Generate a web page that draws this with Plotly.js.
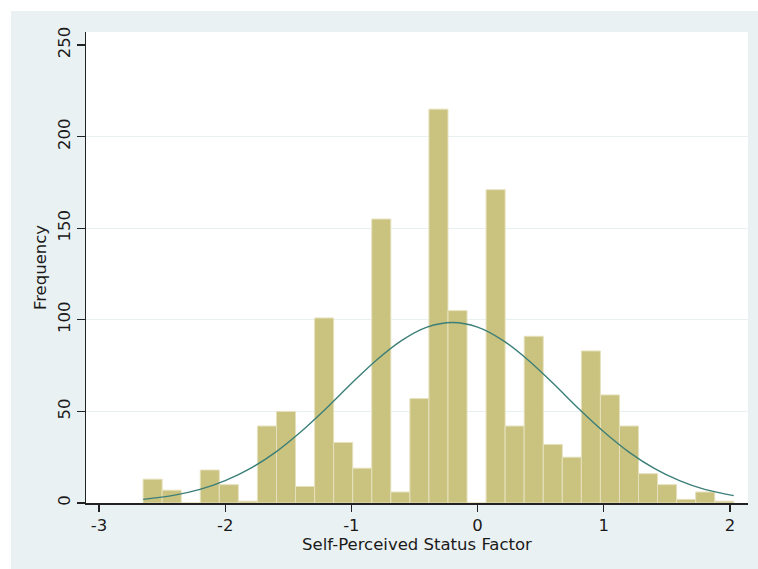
<!DOCTYPE html>
<html>
<head>
<meta charset="utf-8">
<script src="https://cdn.plot.ly/plotly-3.0.1.min.js"></script>
<style>
  html, body { margin: 0; padding: 0; background: #ffffff; }
  #chart { position: absolute; left: 11px; top: 11px; width: 747px; height: 558px; }
</style>
</head>
<body>
<div id="chart"></div>
<script>
// Histogram bin centres (Self-Perceived Status Factor)
const binCenters = [-2.575, -2.424, -2.273, -2.122, -1.971, -1.820, -1.669, -1.518, -1.367, -1.216,
                    -1.065, -0.914, -0.763, -0.612, -0.461, -0.310, -0.159, -0.008, 0.143, 0.294,
                    0.445, 0.596, 0.747, 0.898, 1.049, 1.200, 1.351, 1.502, 1.653, 1.804, 1.955];
// Frequencies
const frequencies = [13, 7, 0, 18, 10, 1, 42, 50, 9, 101,
                     33, 19, 155, 6, 57, 215, 105, 0, 171, 42,
                     91, 32, 25, 83, 59, 42, 16, 10, 2, 6, 1];
// Normal-density overlay, points
const curveX = [-2.65, -2.4, -2.2, -2.0, -1.8, -1.6, -1.4, -1.2, -1.0, -0.8, -0.6, -0.4, -0.2,
                0.0, 0.2, 0.4, 0.6, 0.8, 1.0, 1.2, 1.4, 1.6, 1.8, 2.03];
const curveY = [2.0, 4.3, 7.4, 12.2, 18.9, 27.8, 38.9, 51.6, 65.2, 78.1, 88.8, 96.0, 98.5,
                96.0, 88.8, 78.1, 65.2, 51.6, 38.9, 27.8, 18.9, 12.2, 7.4, 4.0];
const xTicks = [-3, -2, -1, 0, 1, 2];
const xTickLabels = ['-3', '-2', '-1', '0', '1', '2'];
const yTicks = [0, 50, 100, 150, 200, 250];
const yTickLabels = ['0', '50', '100', '150', '200', '250'];
const yGrid = [50, 100, 150, 200];
const xTitle = 'Self-Perceived Status Factor';
const yTitle = 'Frequency';

const FONT = '"DejaVu Sans", "Liberation Sans", Arial, sans-serif';

const traces = [
  {
    type: 'bar',
    x: binCenters,
    y: frequencies,
    width: 0.151,
    marker: { color: '#cac27f', line: { color: '#e6e1bd', width: 1 } },
    hoverinfo: 'x+y'
  },
  {
    type: 'scatter',
    mode: 'lines',
    x: curveX,
    y: curveY,
    line: { color: '#3b7f78', width: 1.4, shape: 'spline' },
    hoverinfo: 'skip'
  }
];

const layout = {
  width: 747,
  height: 558,
  paper_bgcolor: '#eaf1f3',
  plot_bgcolor: '#ffffff',
  margin: { l: 75, r: 10, t: 21, b: 66 },
  showlegend: false,
  bargap: 0,
  font: { family: FONT, size: 16.5, color: '#1a1a1a' },
  xaxis: {
    range: [-3.103, 2.143],
    tickmode: 'array',
    tickvals: xTicks,
    ticktext: xTickLabels,
    ticks: 'outside',
    ticklen: 7,
    tickwidth: 1.3,
    tickcolor: '#222222',
    showline: true,
    linecolor: '#222222',
    linewidth: 1.5,
    showgrid: false,
    zeroline: false,
    tickfont: { family: FONT, size: 16.5, color: '#1a1a1a' },
    title: { text: xTitle, font: { family: FONT, size: 16.5, color: '#1a1a1a' }, standoff: 2 }
  },
  yaxis: {
    range: [0, 257.1],
    tickmode: 'array',
    tickvals: yTicks,
    ticktext: yTickLabels,
    ticks: 'outside',
    ticklen: 8,
    tickwidth: 1.3,
    tickcolor: '#222222',
    tickangle: -90,
    showline: true,
    linecolor: '#222222',
    linewidth: 1.5,
    showgrid: false,
    minor: {
      tickmode: 'array',
      tickvals: yGrid,
      ticks: '',
      showgrid: true,
      gridcolor: '#e9f0f2',
      gridwidth: 1
    },
    zeroline: false,
    tickfont: { family: FONT, size: 16.5, color: '#1a1a1a' },
    title: { text: yTitle, font: { family: FONT, size: 16.5, color: '#1a1a1a' }, standoff: 4 }
  }
};

Plotly.newPlot('chart', traces, layout, { displayModeBar: false, staticPlot: true });
</script>
</body>
</html>
